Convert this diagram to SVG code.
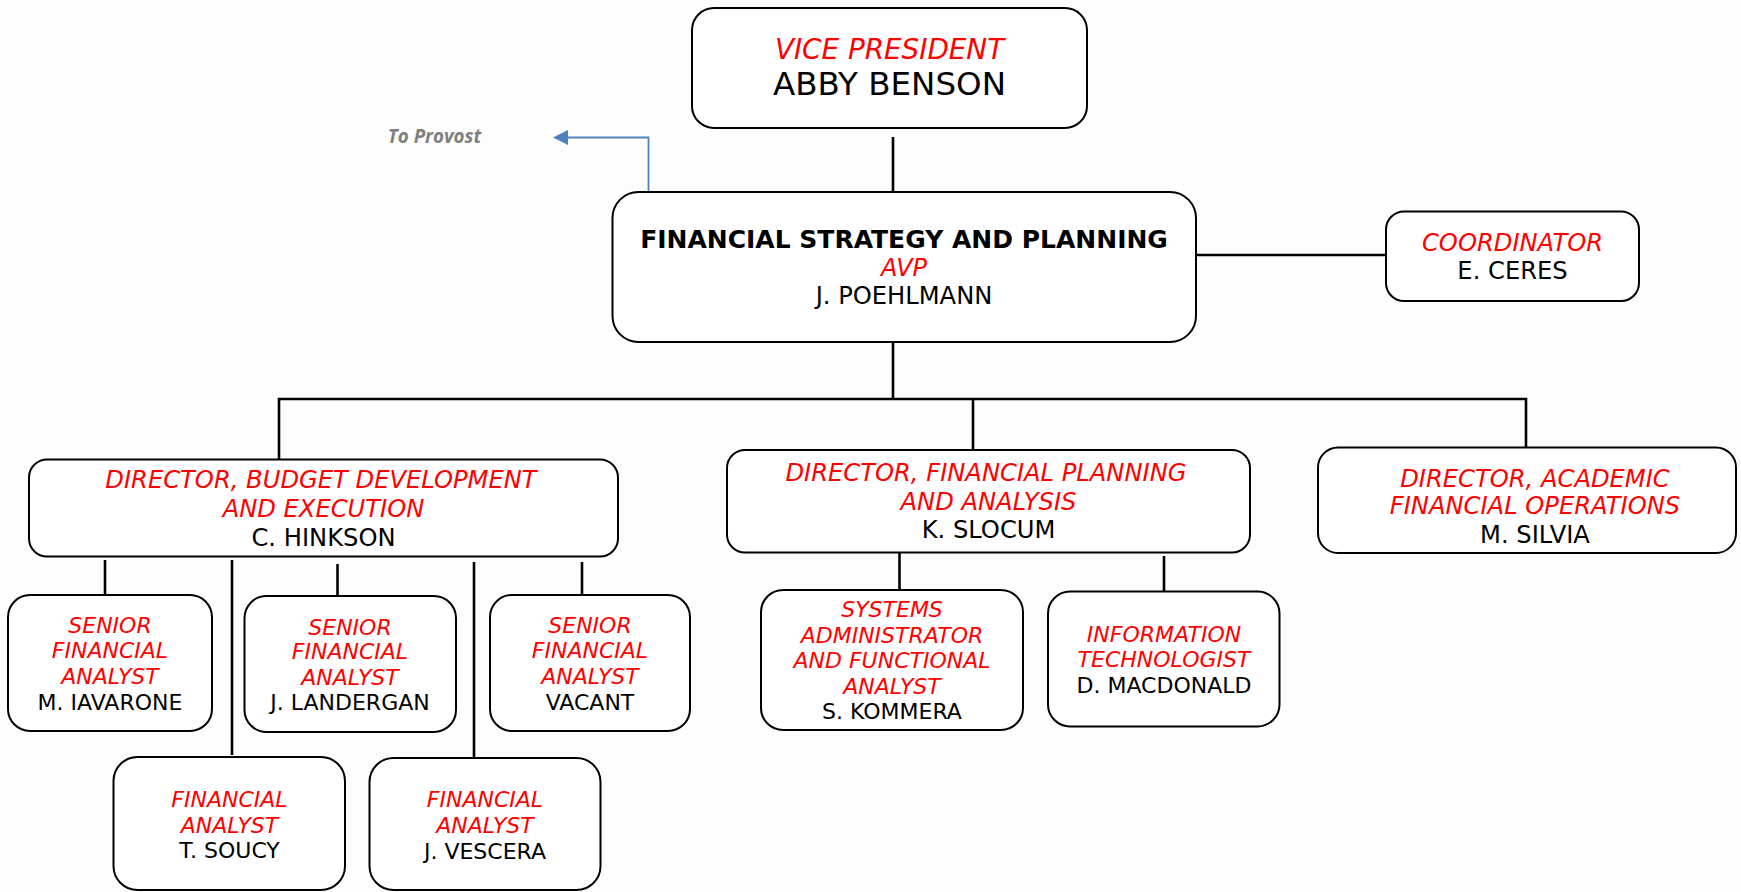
<svg xmlns="http://www.w3.org/2000/svg" width="1741" height="892" viewBox="0 0 1741 892">
<defs>
<style>
.box{fill:#ffffff;stroke:#000;stroke-width:2}
.t{font-family:"DejaVu Sans","Liberation Sans",sans-serif;text-anchor:middle}
.r{fill:#ff0000;font-style:italic}
.k{fill:#000}
.s22{font-size:22px}
.s24{font-size:24.2px}
.con{stroke:#000;stroke-width:2.6;fill:none}
</style>
</defs>
<rect width="1741" height="892" fill="#fdfdfd"/>

<g id="connectors">
<line class="con" x1="893" y1="137" x2="893" y2="192"/>
<line class="con" x1="893" y1="342" x2="893" y2="399"/>
<polyline class="con" points="279,459 279,399 1526,399 1526,448"/>
<line class="con" x1="973" y1="399" x2="973" y2="450"/>
<line class="con" x1="1196" y1="255" x2="1386" y2="255"/>
<line class="con" x1="105" y1="560" x2="105" y2="595"/>
<line class="con" x1="232" y1="560" x2="232" y2="755"/>
<line class="con" x1="337.5" y1="564" x2="337.5" y2="596"/>
<line class="con" x1="474" y1="562" x2="474" y2="757"/>
<line class="con" x1="582" y1="562" x2="582" y2="597"/>
<line class="con" x1="899.5" y1="553" x2="899.5" y2="590"/>
<line class="con" x1="1164" y1="556" x2="1164" y2="592"/>
<polyline points="648.5,192 648.5,137.5 568,137.5" fill="none" stroke="#4f81bd" stroke-width="1.8"/>
<path d="M553,137.5 L568,130 L568,145 z" fill="#4f81bd"/>
</g>

<g id="to-provost">
<text x="434.5" y="143" font-family="'Open Sans','DejaVu Sans',sans-serif" font-size="18.8" font-weight="bold" font-style="italic" fill="#7f7f7f" text-anchor="middle">To Provost</text>
</g>

<g id="vp">
<rect class="box" x="692" y="8" width="395" height="120" rx="22"/>
<text class="t r" x="889.5" y="59" font-size="27.8">VICE PRESIDENT</text>
<text class="t k" x="889.5" y="95" font-size="32.5">ABBY BENSON</text>
</g>

<g id="fsp">
<rect class="box" x="612.5" y="192" width="583.5" height="150" rx="26"/>
<text class="t k" x="904" y="248" font-size="25" font-weight="bold">FINANCIAL STRATEGY AND PLANNING</text>
<text class="t r" x="904" y="276" font-size="24">AVP</text>
<text class="t k" x="904" y="304" font-size="24.2">J. POEHLMANN</text>
</g>

<g id="coordinator">
<rect class="box" x="1386" y="211.5" width="253" height="89.5" rx="18"/>
<text class="t r s24" x="1512.5" y="251">COORDINATOR</text>
<text class="t k s24" x="1512.5" y="279">E. CERES</text>
</g>

<g id="hinkson">
<rect class="box" x="29" y="459.5" width="589" height="97" rx="18"/>
<text class="t r s24" x="321" y="488">DIRECTOR, BUDGET DEVELOPMENT</text>
<text class="t r s24" x="323.5" y="517">AND EXECUTION</text>
<text class="t k s24" x="323.5" y="546">C. HINKSON</text>
</g>

<g id="slocum">
<rect class="box" x="727" y="450" width="523" height="102.5" rx="18"/>
<text class="t r s24" x="986" y="481">DIRECTOR, FINANCIAL PLANNING</text>
<text class="t r s24" x="988.5" y="510">AND ANALYSIS</text>
<text class="t k s24" x="988.5" y="538">K. SLOCUM</text>
</g>

<g id="silvia">
<rect class="box" x="1318" y="447.5" width="418" height="105.5" rx="20"/>
<text class="t r s24" x="1535" y="487">DIRECTOR, ACADEMIC</text>
<text class="t r s24" x="1535" y="514">FINANCIAL OPERATIONS</text>
<text class="t k s24" x="1535" y="543">M. SILVIA</text>
</g>

<g id="iavarone">
<rect class="box" x="8" y="595" width="204" height="136" rx="22"/>
<text class="t r s22" x="110" y="633">SENIOR</text>
<text class="t r s22" x="110" y="658">FINANCIAL</text>
<text class="t r s22" x="110" y="684">ANALYST</text>
<text class="t k s22" x="110" y="710">M. IAVARONE</text>
</g>

<g id="landergan">
<rect class="box" x="244.5" y="596" width="211.5" height="136" rx="22"/>
<text class="t r s22" x="350" y="635">SENIOR</text>
<text class="t r s22" x="350" y="659">FINANCIAL</text>
<text class="t r s22" x="350" y="685">ANALYST</text>
<text class="t k s22" x="350" y="710">J. LANDERGAN</text>
</g>

<g id="vacant">
<rect class="box" x="490" y="595" width="200" height="136" rx="22"/>
<text class="t r s22" x="590" y="633">SENIOR</text>
<text class="t r s22" x="590" y="658">FINANCIAL</text>
<text class="t r s22" x="590" y="684">ANALYST</text>
<text class="t k s22" x="590" y="710">VACANT</text>
</g>

<g id="soucy">
<rect class="box" x="113.5" y="757" width="231.5" height="133" rx="24"/>
<text class="t r s22" x="229.5" y="807">FINANCIAL</text>
<text class="t r s22" x="229.5" y="833">ANALYST</text>
<text class="t k s22" x="229.5" y="858">T. SOUCY</text>
</g>

<g id="vescera">
<rect class="box" x="369.5" y="758" width="231" height="132" rx="24"/>
<text class="t r s22" x="485" y="807">FINANCIAL</text>
<text class="t r s22" x="485" y="833">ANALYST</text>
<text class="t k s22" x="485" y="859">J. VESCERA</text>
</g>

<g id="kommera">
<rect class="box" x="761" y="590" width="262" height="140" rx="22"/>
<text class="t r s22" x="892" y="617">SYSTEMS</text>
<text class="t r s22" x="892" y="643">ADMINISTRATOR</text>
<text class="t r s22" x="892" y="668">AND FUNCTIONAL</text>
<text class="t r s22" x="892" y="694">ANALYST</text>
<text class="t k s22" x="892" y="719">S. KOMMERA</text>
</g>

<g id="macdonald">
<rect class="box" x="1048" y="591.5" width="231.5" height="135" rx="22"/>
<text class="t r s22" x="1164" y="642">INFORMATION</text>
<text class="t r s22" x="1164" y="667">TECHNOLOGIST</text>
<text class="t k s22" x="1164" y="693">D. MACDONALD</text>
</g>
</svg>
